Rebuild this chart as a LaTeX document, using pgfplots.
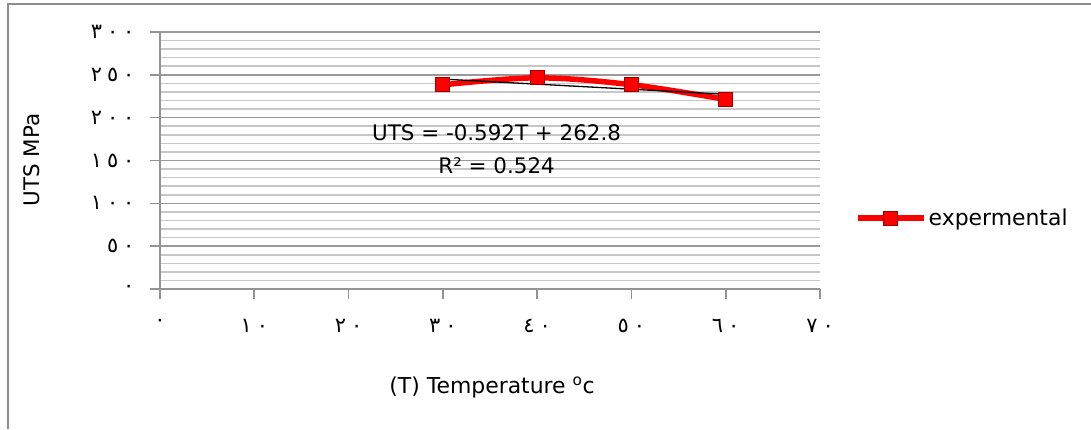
\documentclass[border=0pt]{standalone}
\usepackage{pgfplots}
\pgfplotsset{compat=1.18}
\usepackage{fontspec}
\setmainfont{DejaVu Sans}
\newfontfamily\arfont[Script=Arabic]{DejaVu Sans}
\newcommand\g{\hspace{5bp}}
\begin{document}
\begin{tikzpicture}[x=1bp,y=1bp]
\useasboundingbox (0,0) rectangle (1091,429);
\draw[color=gray!90, line width=2bp] (8,0) -- (8,425) -- (1091,425);
\begin{axis}[
  at={(160bp,140bp)}, anchor=origin,
  scale only axis, width=660bp, height=257bp,
  xmin=0, xmax=70, ymin=0, ymax=300,
  axis x line*=bottom, axis y line*=left,
  axis line style={-, color=gray!85, line width=1.6bp},
  xtick={0,10,...,70}, ytick={0,50,...,300},
  minor y tick num=4,
  ymajorgrids, yminorgrids,
  major grid style={color=gray!80, line width=1.6bp},
  minor grid style={color=gray!45, line width=1.6bp},
  tick align=outside, major tick length=10bp, minor tick length=0bp,
  tick style={color=gray!85, line width=1.6bp},
  xticklabels={{\arfont ٠},{\arfont ١\g٠},{\arfont ٢\g٠},{\arfont ٣\g٠},{\arfont ٤\g٠},{\arfont ٥\g٠},{\arfont ٦\g٠},{\arfont ٧\g٠}},
  yticklabels={{\arfont ٠},{\arfont ٥\g٠},{\arfont ١\g٠\g٠},{\arfont ١\g٥\g٠},{\arfont ٢\g٠\g٠},{\arfont ٢\g٥\g٠},{\arfont ٣\g٠\g٠}},
  ticklabel style={font=\fontsize{21}{24}\selectfont, text=black},
  xticklabel style={yshift=-17bp},
  yticklabel style={xshift=-12bp},
  legend style={at={(1.053,0.276)}, anchor=west, draw=none, fill=none,
    font=\fontsize{22}{26}\selectfont, inner sep=0pt},
  legend cell align=left,
  legend image code/.code={%
    \draw[#1, mark repeat=2, mark phase=2] plot coordinates {(0bp,0bp) (33bp,0bp) (66bp,0bp)};},
  clip=false,
]
\addplot[red, line width=5.5bp, smooth, tension=0.55,
  mark=square*, mark size=7bp,
  mark options={fill=red, draw=red!60!black, line width=1bp, solid}]
  coordinates {(30,238.3)(40,246.5)(50,238.5)(60,221.3)};
\addlegendentry{expermental}
\addplot[black, line width=1.3bp, forget plot] coordinates {(30,245.04)(60,227.28)};
\node[font=\fontsize{21.5}{25}\selectfont] at (axis cs:35.7,182) {UTS = -0.592T + 262.8};
\node[font=\fontsize{21.5}{25}\selectfont] at (axis cs:35.7,144.5) {R² = 0.524};
\end{axis}
\node[font=\fontsize{21.5}{25}\selectfont, rotate=90] at (32,269) {UTS MPa};
\node[font=\fontsize{22}{26}\selectfont] at (492,42) {(T) Temperature \textsuperscript{o}c};
\end{tikzpicture}
\end{document}
